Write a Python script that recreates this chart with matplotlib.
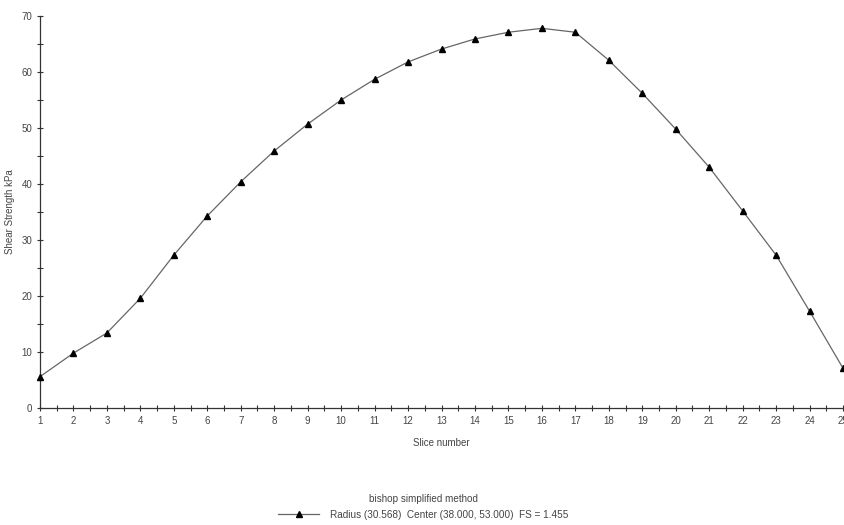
import matplotlib; matplotlib.use("Agg")
import matplotlib.pyplot as plt
from matplotlib.ticker import MultipleLocator

# slice number vs shear strength (kPa), Bishop simplified method
slices = list(range(1, 26))
strength = [5.6, 9.8, 13.4, 19.6, 27.3, 34.3, 40.4, 45.9, 50.7, 55.0,
            58.7, 61.8, 64.1, 65.9, 67.1, 67.8, 67.1, 62.1, 56.2, 49.8,
            43.0, 35.2, 27.3, 17.3, 7.1]
series_label = "Radius (30.568)  Center (38.000, 53.000)  FS = 1.455"
legend_title = "bishop simplified method"

plt.rcParams["font.family"] = ["Liberation Sans", "DejaVu Sans"]
TXT = "#444444"
FS = 7

fig = plt.figure(figsize=(8.44, 5.25), dpi=100)
ax = fig.add_axes([40 / 844, 1 - 408 / 525, 803 / 844, (408 - 16) / 525])
ax.plot(slices, strength, "-", color="#666666", lw=0.9, marker="^", ms=4.5,
        mfc="black", mec="black", label=series_label, clip_on=False, zorder=3)

ax.set_xlim(1, 25)
ax.set_ylim(0, 70)
ax.xaxis.set_major_locator(MultipleLocator(1))
ax.xaxis.set_minor_locator(MultipleLocator(0.5))
ax.yaxis.set_major_locator(MultipleLocator(10))
ax.yaxis.set_minor_locator(MultipleLocator(5))
for s in ("top", "right"):
    ax.spines[s].set_visible(False)
for s in ("left", "bottom"):
    ax.spines[s].set_color("#333333")
    ax.spines[s].set_linewidth(0.9)
ax.tick_params(which="both", direction="inout", length=5, width=0.8, color="#333333",
               labelsize=FS, labelcolor=TXT, pad=3)
ax.tick_params(which="minor", length=4)
ax.set_xlabel("Slice number", fontsize=FS, color=TXT, labelpad=9)
ax.set_ylabel("Shear Strength kPa", fontsize=FS, color=TXT, labelpad=5)

leg = fig.legend(loc="center", bbox_to_anchor=(423.5 / 844, 1 - 507 / 525), frameon=False,
                 title=legend_title, fontsize=7.2, title_fontsize=7.1,
                 handlelength=4.1, handletextpad=1.1, borderpad=0, borderaxespad=0)
for t in leg.get_texts():
    t.set_color(TXT)
leg.get_title().set_color(TXT)

fig.savefig("out.png", dpi=100)
